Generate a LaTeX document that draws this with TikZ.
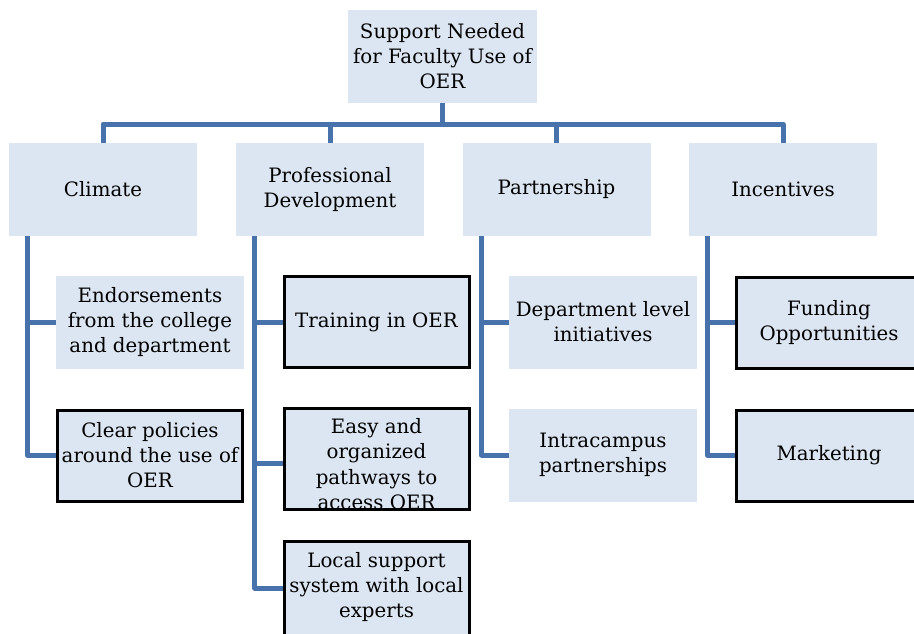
\documentclass[tikz,border=0pt]{standalone}
\usepackage{fontspec}
\setmainfont{DejaVu Serif}
\definecolor{boxfill}{RGB}{220,230,242}
\definecolor{linkcol}{RGB}{72,114,172}
\begin{document}
\begin{tikzpicture}[x=1pt,y=-1pt,
  box/.style={fill=boxfill, minimum width=188pt, minimum height=93pt, inner sep=0pt, align=center,
    font=\fontsize{19.8}{25}\selectfont},
  bbox/.style={box, draw=black, line width=3pt, minimum width=185pt, minimum height=91pt},
  txt/.style={align=center, inner sep=0pt, font=\fontsize{19.8}{25}\selectfont},
  link/.style={draw=linkcol, line width=5pt, line join=round}]
\useasboundingbox (0,0) rectangle (914,633);
\clip (0,0) rectangle (914,633);
% root
\node[box, minimum width=189pt] (root) at (442.5,56.5) {Support Needed\\for Faculty Use of\\OER};
% level 1
\node[box] (clim) at (103,189.5) {Climate};
\node[box] (prof) at (330,189.5) {Professional\\Development};
\node[box] (part) at (556.5,189.5) {Partnership};
\node[box] (inc)  at (783,189.5) {Incentives};
% climate children
\node[box] (c1) at (150,322) {Endorsements\\from the college\\and department};
\node[bbox] (c2) at (150,455.5) {Clear policies\\around the use of\\OER};
% prof dev children
\node[bbox] (p1) at (376.5,322) {Training in OER};
\node[bbox, minimum height=101pt] (p2) at (376.5,459) {};
\node[txt, font=\fontsize{19.8}{25.5}\selectfont] (p2t) at (376.5,464) {Easy and\\organized\\pathways to\\access OER};
\draw[black, line width=3pt] ([yshift=1.5pt]p2.south west) -- ([yshift=1.5pt]p2.south east);
\node[bbox, minimum height=111pt] (p3) at (376.5,597) {};
\node[txt] (p3t) at (376.5,587) {Local support\\system with local\\experts};
% partnership children
\node[box] (r1) at (603,322) {Department level\\initiatives};
\node[box] (r2) at (603,455) {Intracampus\\partnerships};
% incentives children
\node[bbox, minimum width=215pt] (i1) at (844,322.5) {};
\node[txt] (i1t) at (829,322.5) {Funding\\Opportunities};
\node[bbox, minimum width=215pt] (i2) at (844,455.5) {};
\node[txt] (i2t) at (829,455.5) {Marketing};
% connectors
\coordinate (bar) at (442.5,124);
\draw[link] (root.south) -- (bar);
\foreach \n in {clim,prof,part,inc} \draw[link] (bar) -| (\n.north);
\draw[link] ([xshift=19pt]clim.south west) |- (c1.west);
\draw[link] ([xshift=19pt]clim.south west) |- (c2.west);
\draw[link] ([xshift=19pt]prof.south west) |- (p1.west);
\draw[link] ([xshift=19pt]prof.south west) |- ([yshift=-4pt]p2.west);
\draw[link] ([xshift=19pt]prof.south west) |- ([yshift=9pt]p3.west);
\draw[link] ([xshift=19pt]part.south west) |- (r1.west);
\draw[link] ([xshift=19pt]part.south west) |- (r2.west);
\draw[link] ([xshift=19pt]inc.south west) |- (i1.west);
\draw[link] ([xshift=19pt]inc.south west) |- (i2.west);
\end{tikzpicture}
\end{document}
